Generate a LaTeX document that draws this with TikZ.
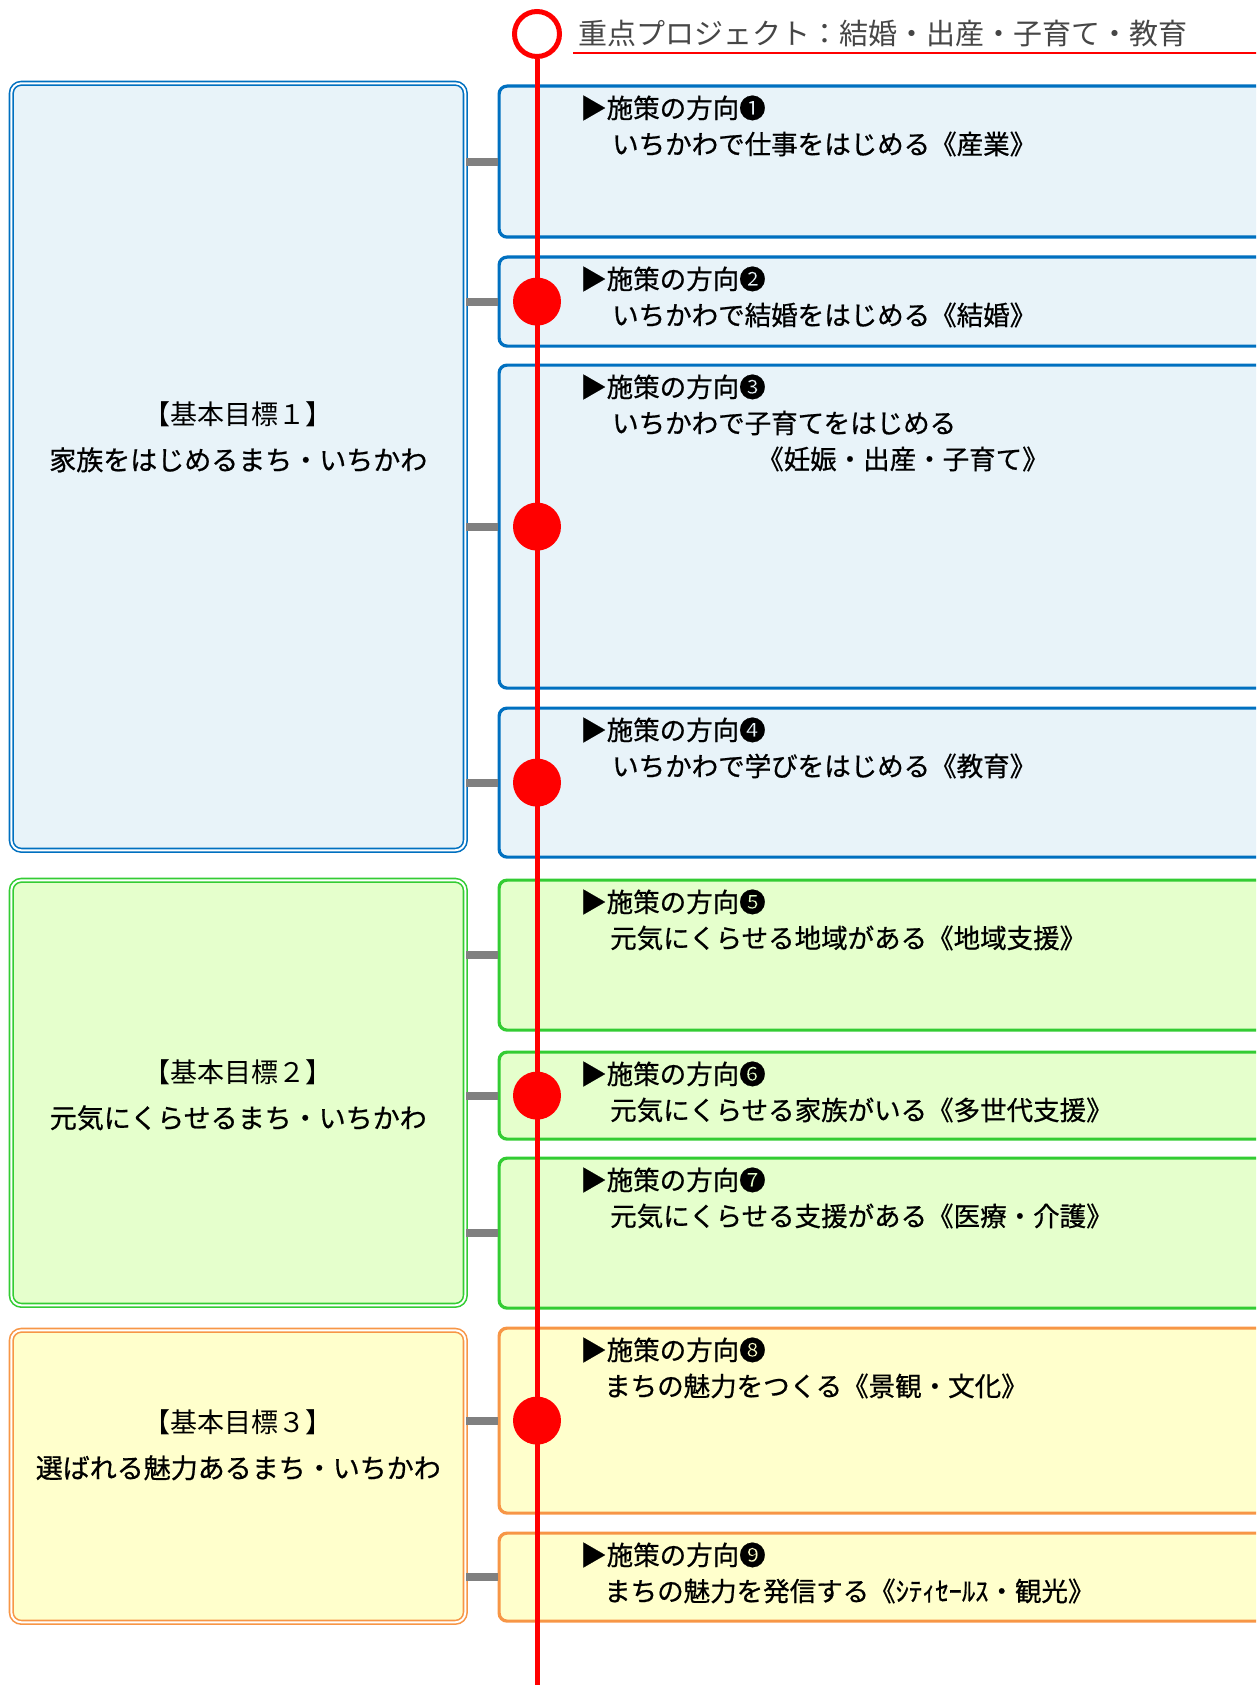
\documentclass[tikz,border=0pt]{standalone}
\usepackage{fontspec}
\setmainfont{Noto Sans CJK JP}
\newfontfamily\heavyjp{Noto Sans CJK JP}[FakeBold=0.7]
\usetikzlibrary{positioning}

\definecolor{goalblue}{RGB}{0,112,192}
\definecolor{fillblue}{RGB}{232,243,249}
\definecolor{goalgreen}{RGB}{51,204,51}
\definecolor{fillgreen}{RGB}{229,255,204}
\definecolor{goalorange}{RGB}{247,150,70}
\definecolor{fillyellow}{RGB}{255,255,204}
\definecolor{bargray}{RGB}{128,128,128}
\definecolor{titlegray}{RGB}{70,70,70}

\tikzset{
  goalbox/.style 2 args={draw=#1, fill=#2, double=white, double distance=2pt,
    line width=1.6pt, rounded corners=10pt, minimum width=454pt,
    inner sep=0pt, anchor=north west},
  dirbox/.style 2 args={draw=#1, fill=#2, line width=3.2pt, rounded corners=8pt,
    minimum width=800pt, inner sep=0pt, anchor=north west},
  goaltext/.style={align=center, inner sep=0pt, font=\fontsize{27}{46}\selectfont},
  dirhead/.style={anchor=west, inner sep=0pt, font=\heavyjp\fontsize{26.5}{30}\selectfont},
  dirsub/.style={anchor=west, inner sep=0pt, font=\heavyjp\fontsize{26.5}{30}\selectfont},
  bar/.style={draw=bargray, line width=8pt},
  spine/.style={draw=red, line width=5pt},
  hub/.style={circle, fill=red, minimum size=48pt, inner sep=0pt},
}

\begin{document}
\begin{tikzpicture}[x=1pt, y=-1pt]
        \useasboundingbox (0,0) rectangle (1256,1685);
        \clip (0,0) rectangle (1256,1685);

        % Goal boxes
        \node[goalbox={goalblue}{fillblue}, minimum height=767pt] (goal1) at (10.5,82.5) {};
        \node[goalbox={goalgreen}{fillgreen}, minimum height=425pt] (goal2) at (10.5,879.5) {};
        \node[goalbox={goalorange}{fillyellow}, minimum height=292pt] (goal3) at (10.5,1329.5) {};

        \node[goaltext] (goal1t) at ([yshift=30pt]goal1.center) {【基本目標１】\\{\heavyjp 家族をはじめるまち・いちかわ}};
        \node[goaltext] (goal2t) at ([yshift=-2pt]goal2.center) {【基本目標２】\\{\heavyjp 元気にくらせるまち・いちかわ}};
        \node[goaltext] (goal3t) at ([yshift=31.5pt]goal3.center) {【基本目標３】\\{\heavyjp 選ばれる魅力あるまち・いちかわ}};

        % Direction boxes
        \node[dirbox={goalblue}{fillblue}, minimum height=151pt] (dir1) at (497.5,84.5) {};
        \node[dirbox={goalblue}{fillblue}, minimum height=89pt] (dir2) at (497.5,255.5) {};
        \node[dirbox={goalblue}{fillblue}, minimum height=323pt] (dir3) at (497.5,363.5) {};
        \node[dirbox={goalblue}{fillblue}, minimum height=149pt] (dir4) at (497.5,706.5) {};
        \node[dirbox={goalgreen}{fillgreen}, minimum height=150pt] (dir5) at (497.5,878.5) {};
        \node[dirbox={goalgreen}{fillgreen}, minimum height=87pt] (dir6) at (497.5,1050.5) {};
        \node[dirbox={goalgreen}{fillgreen}, minimum height=150pt] (dir7) at (497.5,1156.5) {};
        \node[dirbox={goalorange}{fillyellow}, minimum height=185pt] (dir8) at (497.5,1326.5) {};
        \node[dirbox={goalorange}{fillyellow}, minimum height=88pt] (dir9) at (497.5,1531.5) {};

        % Direction texts
        \node[dirhead] (dir1h) at ([shift={(82.5,23.5)}]dir1.north west) {▶施策の方向❶};
        \node[dirsub] (dir1s) at ([shift={(32,36)}]dir1h.west) {いちかわで仕事をはじめる《産業》};
        \node[dirhead] (dir2h) at ([shift={(82.5,23.5)}]dir2.north west) {▶施策の方向❷};
        \node[dirsub] (dir2s) at ([shift={(32,36)}]dir2h.west) {いちかわで結婚をはじめる《結婚》};
        \node[dirhead] (dir3h) at ([shift={(82.5,23.5)}]dir3.north west) {▶施策の方向❸};
        \node[dirsub] (dir3s) at ([shift={(32,36)}]dir3h.west) {いちかわで子育てをはじめる};
        \node[dirsub] (dir3t) at ([shift={(145,36)}]dir3s.west) {《妊娠・出産・子育て》};
        \node[dirhead] (dir4h) at ([shift={(82.5,23.5)}]dir4.north west) {▶施策の方向❹};
        \node[dirsub] (dir4s) at ([shift={(32,36)}]dir4h.west) {いちかわで学びをはじめる《教育》};
        \node[dirhead] (dir5h) at ([shift={(82.5,23.5)}]dir5.north west) {▶施策の方向❺};
        \node[dirsub] (dir5s) at ([shift={(30,36)}]dir5h.west) {元気にくらせる地域がある《地域支援》};
        \node[dirhead] (dir6h) at ([shift={(82.5,23.5)}]dir6.north west) {▶施策の方向❻};
        \node[dirsub] (dir6s) at ([shift={(30,36)}]dir6h.west) {元気にくらせる家族がいる《多世代支援》};
        \node[dirhead] (dir7h) at ([shift={(82.5,23.5)}]dir7.north west) {▶施策の方向❼};
        \node[dirsub] (dir7s) at ([shift={(30,36)}]dir7h.west) {元気にくらせる支援がある《医療・介護》};
        \node[dirhead] (dir8h) at ([shift={(82.5,23.5)}]dir8.north west) {▶施策の方向❽};
        \node[dirsub] (dir8s) at ([shift={(24,36)}]dir8h.west) {まちの魅力をつくる《景観・文化》};
        \node[dirhead] (dir9h) at ([shift={(82.5,23.5)}]dir9.north west) {▶施策の方向❾};
        \node[dirsub] (dir9s) at ([shift={(24,36)}]dir9h.west) {まちの魅力を発信する《ｼﾃｨｾｰﾙｽ・観光》};

        % Bars
        \draw[bar] (goal1.east |- dir1.west) -- (dir1.west);
        \draw[bar] (goal1.east |- dir2.west) -- (dir2.west);
        \draw[bar] (goal1.east |- dir3.west) -- (dir3.west);
        \draw[bar] (goal1.east |- dir4.west) -- (dir4.west);
        \draw[bar] (goal2.east |- dir5.west) -- (dir5.west);
        \draw[bar] (goal2.east |- dir6.west) -- (dir6.west);
        \draw[bar] (goal2.east |- dir7.west) -- (dir7.west);
        \draw[bar] (goal3.east |- dir8.west) -- (dir8.west);
        \draw[bar] (goal3.east |- dir9.west) -- (dir9.west);

        % Project line
        \node[circle, draw=red, line width=5pt, fill=white, minimum size=45pt, inner sep=0pt] (start) at (537,34) {};
        \node[right=16pt of start, inner sep=0pt, text=titlegray, font=\fontsize{29}{32}\selectfont] (title) {重点プロジェクト：結婚・出産・子育て・教育};
        \draw[red, line width=2.5pt] ([shift={(-5,5.5)}]title.south west) -- ([shift={(80,5.5)}]title.south east);
        \coordinate (end) at (537,1700);
        \draw[spine] (start.south) -- (end);

        \node[hub] (hub2) at (dir2.west -| start) {};
        \node[hub] (hub3) at (dir3.west -| start) {};
        \node[hub] (hub4) at (dir4.west -| start) {};
        \node[hub] (hub6) at (dir6.west -| start) {};
        \node[hub] (hub8) at (dir8.west -| start) {};
\end{tikzpicture}
\end{document}
